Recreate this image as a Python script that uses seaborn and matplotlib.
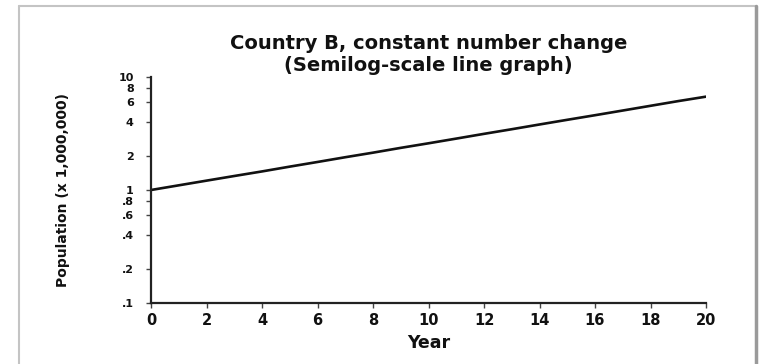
import matplotlib
matplotlib.use("Agg")
import matplotlib.pyplot as plt
from matplotlib.lines import Line2D
import seaborn as sns
import pandas as pd

# Population of Country B (millions) by year
years = [0, 1, 2, 3, 4, 5, 6, 7, 8, 9, 10,
         11, 12, 13, 14, 15, 16, 17, 18, 19, 20]
population = [1.00, 1.10, 1.21, 1.33, 1.46, 1.61, 1.77, 1.95, 2.14, 2.36, 2.59,
              2.85, 3.14, 3.45, 3.80, 4.18, 4.59, 5.05, 5.56, 6.12, 6.70]

x_ticks = [0, 2, 4, 6, 8, 10, 12, 14, 16, 18, 20]
y_ticks = [0.1, 0.2, 0.4, 0.6, 0.8, 1, 2, 4, 6, 8, 10]
y_tick_labels = [".1", ".2", ".4", ".6", ".8", "1", "2", "4", "6", "8", "10"]

title = "Country B, constant number change\n(Semilog-scale line graph)"
x_label = "Year"
y_label = "Population (x 1,000,000)"

df = pd.DataFrame({"Year": years, "Population": population})

sns.set_theme(style="ticks")
plt.rcParams["font.family"] = ["DejaVu Sans"]

W, H = 763, 364
fig = plt.figure(figsize=(W / 100, H / 100), dpi=100)
ax = fig.add_axes([151 / W, 1 - 303 / H, (706 - 151) / W, (303 - 77) / H])

sns.lineplot(data=df, x="Year", y="Population", ax=ax, color="#111111",
             linewidth=1.9, legend=False)

ax.set_yscale("log")
ax.set_xlim(0, 20)
ax.set_ylim(0.1, 10)
ax.set_xticks(x_ticks)
ax.set_xticklabels([str(t) for t in x_ticks])
ax.set_yticks(y_ticks)
ax.set_yticklabels(y_tick_labels)
ax.yaxis.set_minor_locator(matplotlib.ticker.NullLocator())

for side in ("top", "right"):
    ax.spines[side].set_visible(False)
for side in ("left", "bottom"):
    ax.spines[side].set_linewidth(1.6)
    ax.spines[side].set_color("#222222")

ax.tick_params(axis="both", direction="out", length=3.5, width=1.0,
               color="#444444", labelcolor="#111111")
ax.tick_params(axis="y", pad=9, labelsize=8)
ax.tick_params(axis="x", pad=4, labelsize=10.5)
for lab in ax.get_xticklabels() + ax.get_yticklabels():
    lab.set_fontweight("bold")

ax.set_xlabel(x_label, fontsize=12.5, fontweight="bold", color="#111111", labelpad=4)
ax.set_ylabel(y_label, fontsize=10, fontweight="bold", color="#111111")
ax.yaxis.set_label_coords((70 - 151) / (706 - 151), 0.5)
ax.set_title(title, fontsize=14, fontweight="bold", color="#111111",
             pad=4, linespacing=1.2)

# Frame around the figure with a darker right edge
fig.add_artist(Line2D([18.5 / W, 18.5 / W], [0, 1 - 6 / H], transform=fig.transFigure,
                      color="#c4c4c4", linewidth=1.5))
fig.add_artist(Line2D([18.5 / W, 756 / W], [1 - 6 / H, 1 - 6 / H], transform=fig.transFigure,
                      color="#c4c4c4", linewidth=1.5))
fig.add_artist(Line2D([756 / W, 756 / W], [0, 1 - 6 / H], transform=fig.transFigure,
                      color="#9a9a9a", linewidth=2.5))

fig.savefig("out.png", dpi=100, facecolor="white")
